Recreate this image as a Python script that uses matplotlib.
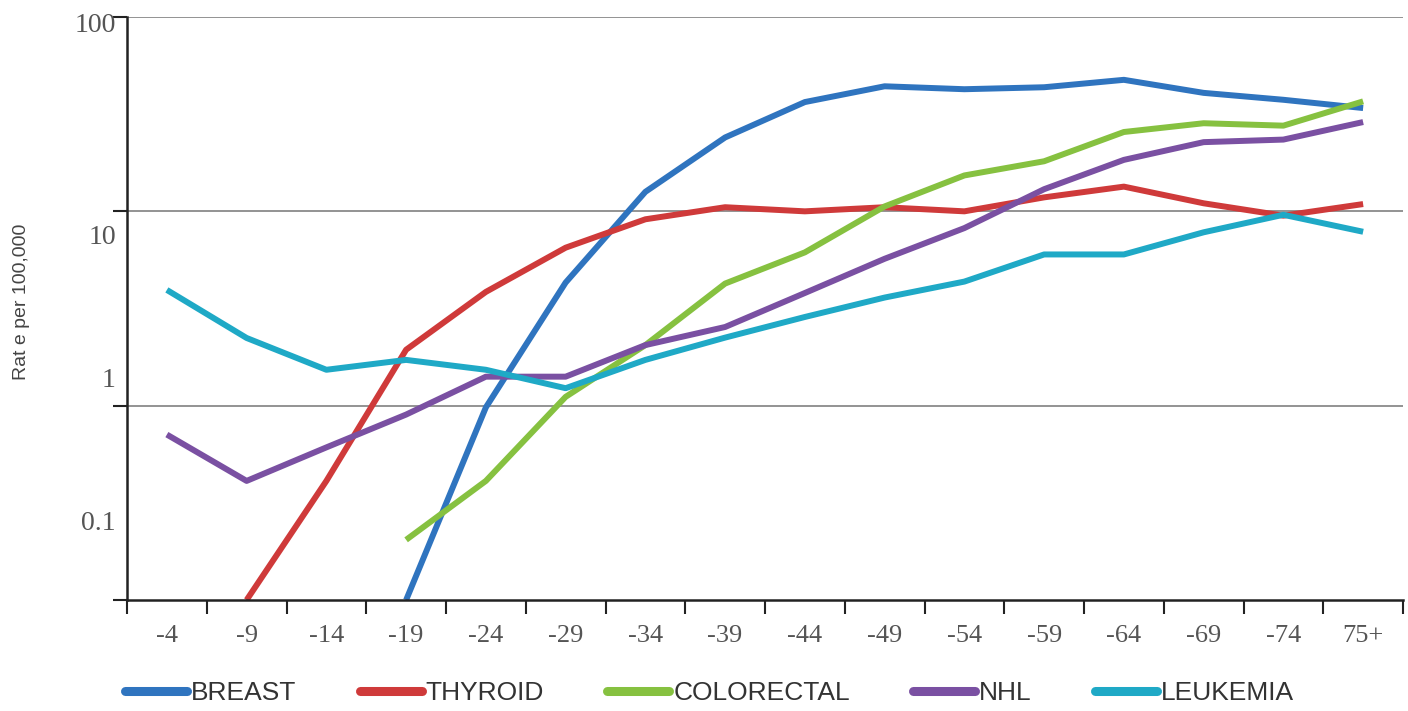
import matplotlib
matplotlib.use("Agg")
import matplotlib.pyplot as plt
from matplotlib.lines import Line2D
import numpy as np

age_groups = ["-4", "-9", "-14", "-19", "-24", "-29", "-34", "-39",
              "-44", "-49", "-54", "-59", "-64", "-69", "-74", "75+"]

nan = np.nan
breast = [nan, nan, nan, 0.1, 0.98, 4.3, 12.6, 24, 36.5, 44, 42.5, 43.5, 47.5, 40.7, 37.5, 34]
thyroid = [nan, 0.1, 0.41, 1.94, 3.85, 6.5, 9.1, 10.5, 10.0, 10.5, 10.0, 11.8, 13.4, 11.0, 9.5, 10.9]
colorectal = [nan, nan, nan, 0.204, 0.41, 1.11, 2.05, 4.25, 6.15, 10.6, 15.3, 18.1, 25.6, 28.4, 27.6, 36.8]
nhl = [0.71, 0.41, 0.61, 0.90, 1.41, 1.41, 2.05, 2.54, 3.8, 5.7, 8.2, 13.0, 18.4, 22.7, 23.4, 28.8]
leukemia = [3.94, 2.23, 1.53, 1.72, 1.53, 1.23, 1.72, 2.24, 2.86, 3.6, 4.35, 6.0, 6.0, 7.8, 9.6, 7.85]

series = [("BREAST", breast, "#2f74bf"),
          ("THYROID", thyroid, "#cf3a3a"),
          ("COLORECTAL", colorectal, "#86c140"),
          ("NHL", nhl, "#7a50a2"),
          ("LEUKEMIA", leukemia, "#1fa9c6")]

grid_values = [0.1, 1, 10, 100]
label_values = [0.258, 1.40, 7.64, 94]
label_texts = ["0.1", "1", "10", "100"]

fig = plt.figure(figsize=(14.08, 7.11), dpi=100)
ax = fig.add_axes([127 / 1408, 1 - 600 / 711, (1403 - 127) / 1408, (600 - 17) / 711])

x = np.arange(len(age_groups))
for name, vals, color in series:
    ax.plot(x, vals, color=color, lw=4.3, solid_joinstyle="round", solid_capstyle="butt")

ax.set_yscale("log")
ax.set_ylim(0.1, 100)
ax.set_xlim(-0.5, len(age_groups) - 0.5)

# gridlines / ticks at decades, labels where the original puts them
ax.set_yticks(grid_values)
ax.set_yticklabels([])
ax.set_yticks(label_values, minor=True)
ax.set_yticklabels(label_texts, minor=True, family="Liberation Serif", fontsize=20, color="#555555")
ax.tick_params(axis="y", which="major", length=10, width=1.5, direction="out", color="#222222")
ax.tick_params(axis="y", which="minor", length=0, pad=8)
for yv in grid_values[1:]:
    ax.axhline(yv, color="#8a8a8a", lw=1.3, zorder=0)

ax.set_xticks(np.arange(-0.5, len(age_groups), 1.0))
ax.set_xticklabels([])
ax.set_xticks(x, minor=True)
ax.set_xticklabels(age_groups, minor=True, family="Liberation Serif", fontsize=19, color="#555555")
ax.tick_params(axis="x", which="major", length=10, width=1.5, direction="out", color="#222222")
ax.tick_params(axis="x", which="minor", length=0, pad=18)

for side in ["top", "right"]:
    ax.spines[side].set_visible(False)
for side in ["left", "bottom"]:
    ax.spines[side].set_linewidth(1.8)
    ax.spines[side].set_color("#222222")

fig.text(22 / 1408, 1 - 302 / 711, "Rat e per 100,000", rotation=90, ha="center", va="center",
         family="Liberation Sans", fontsize=14, color="#444444")

handles = [Line2D([0], [0], color=c, lw=6.5, solid_capstyle="round") for _, _, c in series]
labels = [n for n, _, _ in series]
leg = fig.legend(handles, labels, loc="center left", bbox_to_anchor=(125 / 1408, 1 - 693 / 711),
                 ncol=5, frameon=False, handlelength=2.35, handletextpad=0.15, columnspacing=2.4,
                 borderaxespad=0, borderpad=0,
                 prop={"family": "Liberation Sans", "size": 19})
for t in leg.get_texts():
    t.set_color("#333333")

fig.savefig("out.png", dpi=100)
